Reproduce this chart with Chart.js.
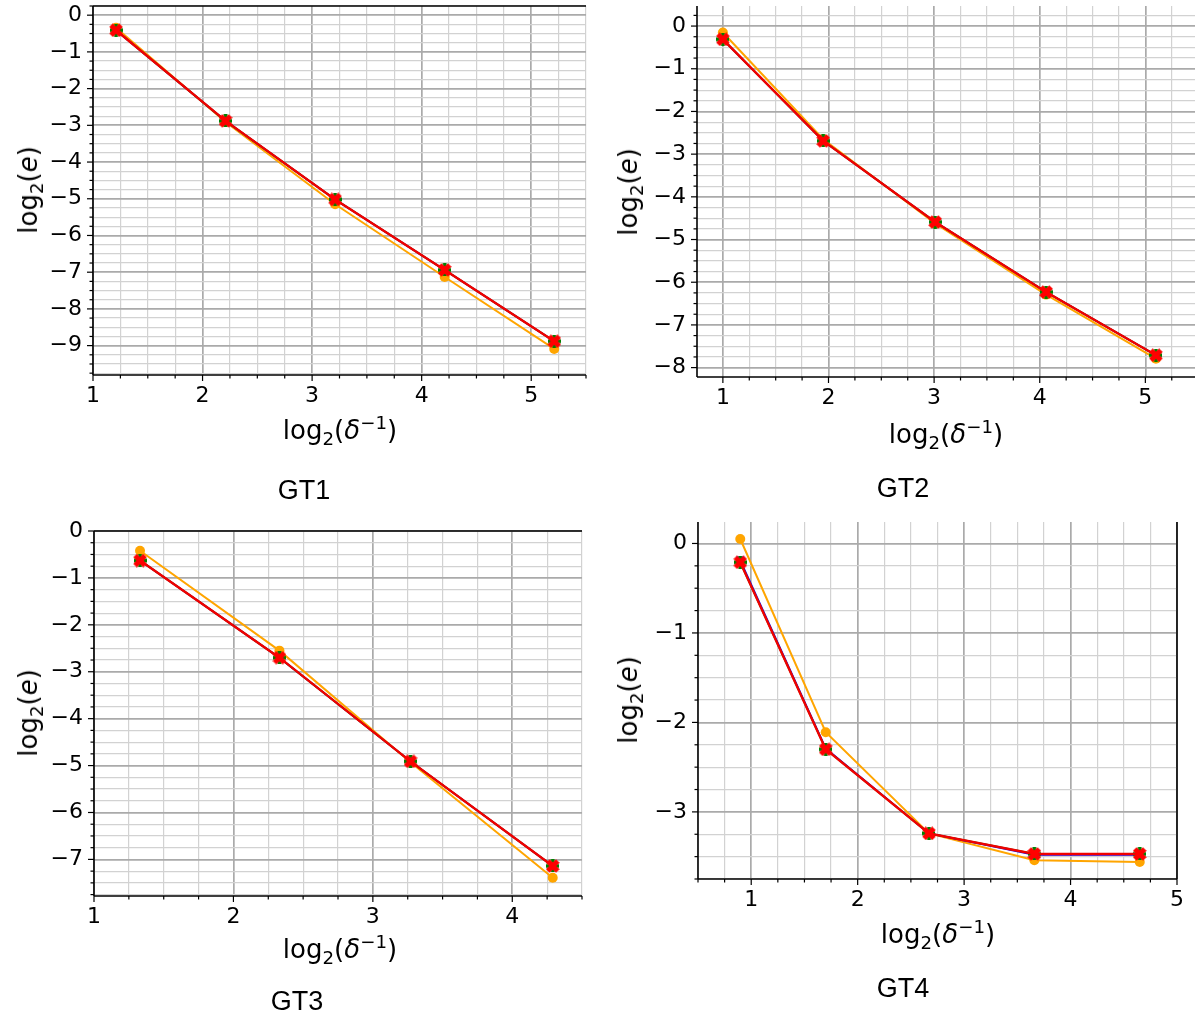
<!DOCTYPE html>
<html>
<head>
<meta charset="utf-8">
<script src="https://cdn.jsdelivr.net/npm/chart.js@4.4.0/dist/chart.umd.min.js"></script>
<style>
  html, body { margin: 0; padding: 0; background: #fff; overflow: hidden; }
  #fig { position: relative; width: 1197px; height: 1021px; }
  canvas { position: absolute; }
  .lbl { position: absolute; font-family: "DejaVu Sans"; font-size: 26px; color: #000; white-space: nowrap; transform: translate(-50%, -50%); }
  .lbl.rot { transform: translate(-50%, -50%) rotate(-90deg); }
  .lbl sub, .lbl sup { font-size: 0.7em; line-height: 0; }
  .title { position: absolute; font-family: "Liberation Sans", Arial, sans-serif; font-size: 27px; color: #000; transform: translate(-50%, -50%); }
</style>
</head>
<body>
<div id="fig">
  <canvas id="c1"></canvas>
  <canvas id="c2"></canvas>
  <canvas id="c3"></canvas>
  <canvas id="c4"></canvas>

  <div class="lbl rot" style="left:28px; top:190px;">log<sub>2</sub>(<i>e</i>)</div>
  <div class="lbl" style="left:340px; top:430px;">log<sub>2</sub>(<i>δ</i><sup>−1</sup>)</div>
  <div class="title" style="left:304px; top:490px;">GT1</div>

  <div class="lbl rot" style="left:628px; top:192px;">log<sub>2</sub>(<i>e</i>)</div>
  <div class="lbl" style="left:946px; top:434px;">log<sub>2</sub>(<i>δ</i><sup>−1</sup>)</div>
  <div class="title" style="left:903px; top:488px;">GT2</div>

  <div class="lbl rot" style="left:28px; top:713px;">log<sub>2</sub>(<i>e</i>)</div>
  <div class="lbl" style="left:340px; top:949px;">log<sub>2</sub>(<i>δ</i><sup>−1</sup>)</div>
  <div class="title" style="left:297px; top:1001px;">GT3</div>

  <div class="lbl rot" style="left:628px; top:700px;">log<sub>2</sub>(<i>e</i>)</div>
  <div class="lbl" style="left:938px; top:934px;">log<sub>2</sub>(<i>δ</i><sup>−1</sup>)</div>
  <div class="title" style="left:903px; top:988px;">GT4</div>
</div>
<script>
// ---- data ----
const gt1X      = [1.21, 2.21, 3.21, 4.21, 5.21];
const gt1Orange = [-0.34, -2.91, -5.15, -7.13, -9.09];
const gt1Blue   = [-0.41, -2.88, -5.02, -6.94, -8.88];
const gt1Green  = [-0.41, -2.88, -5.02, -6.94, -8.88];
const gt1Red    = [-0.41, -2.88, -5.02, -6.94, -8.88];

const gt2X      = [1.0, 1.95, 3.01, 4.06, 5.10];
const gt2Orange = [-0.15, -2.65, -4.62, -6.29, -7.79];
const gt2Blue   = [-0.31, -2.69, -4.59, -6.23, -7.71];
const gt2Green  = [-0.31, -2.69, -4.59, -6.23, -7.71];
const gt2Red    = [-0.31, -2.69, -4.59, -6.23, -7.71];

const gt3X      = [1.33, 2.33, 3.27, 4.29];
const gt3Orange = [-0.42, -2.55, -4.93, -7.39];
const gt3Blue   = [-0.63, -2.70, -4.91, -7.14];
const gt3Green  = [-0.63, -2.70, -4.91, -7.14];
const gt3Red    = [-0.63, -2.70, -4.91, -7.14];

const gt4X      = [0.897, 1.70, 2.67, 3.66, 4.65];
const gt4Orange = [0.05, -2.11, -3.24, -3.54, -3.56];
const gt4Blue   = [-0.19, -2.29, -3.24, -3.48, -3.48];
const gt4Green  = [-0.21, -2.30, -3.24, -3.47, -3.47];
const gt4Red    = [-0.21, -2.30, -3.24, -3.47, -3.47];

// ---- layout of the four axes (pixel boxes of the plot areas) ----
const panels = [
  { id: 'c1', xs: gt1X, ys: [gt1Orange, gt1Blue, gt1Green, gt1Red],
    area: { l: 93, t: 6, r: 586, b: 375 }, xr: [1, 5.5], yr: [-9.8, 0.25], spines: ['left', 'bottom', 'top'] },
  { id: 'c2', xs: gt2X, ys: [gt2Orange, gt2Blue, gt2Green, gt2Red],
    area: { l: 697, t: 6, r: 1195, b: 377 }, xr: [0.755, 5.47], yr: [-8.22, 0.47], spines: ['left', 'bottom'] },
  { id: 'c3', xs: gt3X, ys: [gt3Orange, gt3Blue, gt3Green, gt3Red],
    area: { l: 94, t: 531, r: 582, b: 896 }, xr: [1, 4.5], yr: [-7.78, 0], spines: ['left', 'bottom', 'top'] },
  { id: 'c4', xs: gt4X, ys: [gt4Orange, gt4Blue, gt4Green, gt4Red],
    area: { l: 698, t: 522, r: 1177, b: 879 }, xr: [0.5, 5], yr: [-3.75, 0.24], spines: ['left', 'bottom', 'right'] }
];

const PAD_L = 100, PAD_T = 20, PAD_R = 20, PAD_B = 50;

function isMajor(v) { return Math.abs(v - Math.round(v)) < 1e-6; }
function fmt(v) { const n = Math.round(v); return n < 0 ? '\u2212' + Math.abs(n) : String(n); }

function marker(kind, color, size) {
  const c = document.createElement('canvas');
  c.width = c.height = size;
  const g = c.getContext('2d');
  g.fillStyle = color;
  g.strokeStyle = color;
  const m = size / 2;
  if (kind === 'square') {
    g.fillRect(1, 1, size - 2, size - 2);
  } else if (kind === 'plus') {
    const w = size * 0.3;
    g.fillRect(m - w / 2, 0, w, size);
    g.fillRect(0, m - w / 2, size, w);
  } else {
    g.lineWidth = size * 0.36;
    g.lineCap = 'butt';
    g.beginPath();
    g.moveTo(2, 2); g.lineTo(size - 2, size - 2);
    g.moveTo(size - 2, 2); g.lineTo(2, size - 2);
    g.stroke();
  }
  return c;
}

const squareImg = marker('square', '#0000ff', 10);
const plusImg = marker('plus', '#008000', 13);
const xImg = marker('x', '#ff0000', 14);

// spines and matplotlib-like tick marks
const axesDeco = {
  id: 'axesDeco',
  afterDraw(chart, args, opts) {
    const { ctx, chartArea: a, scales } = chart;
    const ln = (x1, y1, x2, y2) => { ctx.beginPath(); ctx.moveTo(x1, y1); ctx.lineTo(x2, y2); ctx.stroke(); };
    ctx.save();
    ctx.strokeStyle = '#000';
    ctx.lineWidth = 1.2;
    scales.x.ticks.forEach(t => {
      const px = scales.x.getPixelForValue(t.value);
      ln(px, a.bottom, px, a.bottom + (isMajor(t.value) ? 6 : 3.5));
    });
    scales.y.ticks.forEach(t => {
      const py = scales.y.getPixelForValue(t.value);
      ln(a.left, py, a.left - (isMajor(t.value) ? 6 : 3.5), py);
    });
    ctx.lineWidth = 1.6;
    const sp = opts.spines || [];
    if (sp.includes('left')) ln(a.left, a.top, a.left, a.bottom);
    if (sp.includes('bottom')) ln(a.left, a.bottom, a.right, a.bottom);
    if (sp.includes('top')) ln(a.left, a.top, a.right, a.top);
    if (sp.includes('right')) ln(a.right, a.top, a.right, a.bottom);
    ctx.restore();
  }
};

function gridOpts() {
  return {
    drawTicks: false,
    color: c => (c.tick && isMajor(c.tick.value)) ? '#aaaaaa' : '#d2d2d2',
    lineWidth: c => (c.tick && isMajor(c.tick.value)) ? 1.7 : 1.2
  };
}

panels.forEach(p => {
  const cv = document.getElementById(p.id);
  const w = (p.area.r - p.area.l) + PAD_L + PAD_R;
  const h = (p.area.b - p.area.t) + PAD_T + PAD_B;
  cv.width = w; cv.height = h;
  cv.style.width = w + 'px'; cv.style.height = h + 'px';
  cv.style.left = (p.area.l - PAD_L) + 'px';
  cv.style.top = (p.area.t - PAD_T) + 'px';

  const pts = ys => p.xs.map((x, i) => ({ x: x, y: ys[i] }));
  const [orange, blue, green, red] = p.ys;

  new Chart(cv.getContext('2d'), {
    type: 'line',
    data: {
      datasets: [
        { data: pts(orange), borderColor: '#ffa500', borderWidth: 2, pointStyle: 'circle', pointRadius: 5,
          pointBackgroundColor: '#ffa500', pointBorderWidth: 0, order: 3 },
        { data: pts(blue), borderColor: '#0000ff', borderWidth: 1.8, pointStyle: squareImg, pointRadius: 6, order: 2 },
        { data: pts(green), borderColor: '#008000', borderWidth: 1.8, pointStyle: plusImg, pointRadius: 6, order: 1 },
        { data: pts(red), borderColor: '#f00000', borderWidth: 2.4, pointStyle: xImg, pointRadius: 6, order: 0 }
      ]
    },
    options: {
      responsive: false,
      animation: false,
      events: [],
      devicePixelRatio: 1,
      layout: { padding: { left: 0, top: PAD_T, right: PAD_R, bottom: 0 } },
      plugins: { legend: { display: false }, tooltip: { enabled: false }, axesDeco: { spines: p.spines } },
      elements: { line: { tension: 0 } },
      scales: {
        x: {
          type: 'linear', position: 'bottom', min: p.xr[0], max: p.xr[1],
          grid: gridOpts(),
          border: { display: false },
          ticks: {
            stepSize: 0.25, includeBounds: false, autoSkip: false, maxRotation: 0, maxTicksLimit: 200,
            padding: 8, color: '#000', font: { family: 'DejaVu Sans', size: 22 },
            callback: v => isMajor(v) ? fmt(v) : ''
          },
          afterFit: s => { s.height = PAD_B; s.paddingLeft = 0; s.paddingRight = 0; }
        },
        y: {
          type: 'linear', position: 'left', min: p.yr[0], max: p.yr[1],
          grid: gridOpts(),
          border: { display: false },
          ticks: {
            stepSize: 0.25, includeBounds: false, autoSkip: false, maxTicksLimit: 200,
            padding: 11, color: '#000', font: { family: 'DejaVu Sans', size: 22 },
            callback: v => isMajor(v) ? fmt(v) : ''
          },
          afterFit: s => { s.width = PAD_L; s.paddingTop = 0; s.paddingBottom = 0; }
        }
      }
    },
    plugins: [axesDeco]
  });
});
</script>
</body>
</html>
